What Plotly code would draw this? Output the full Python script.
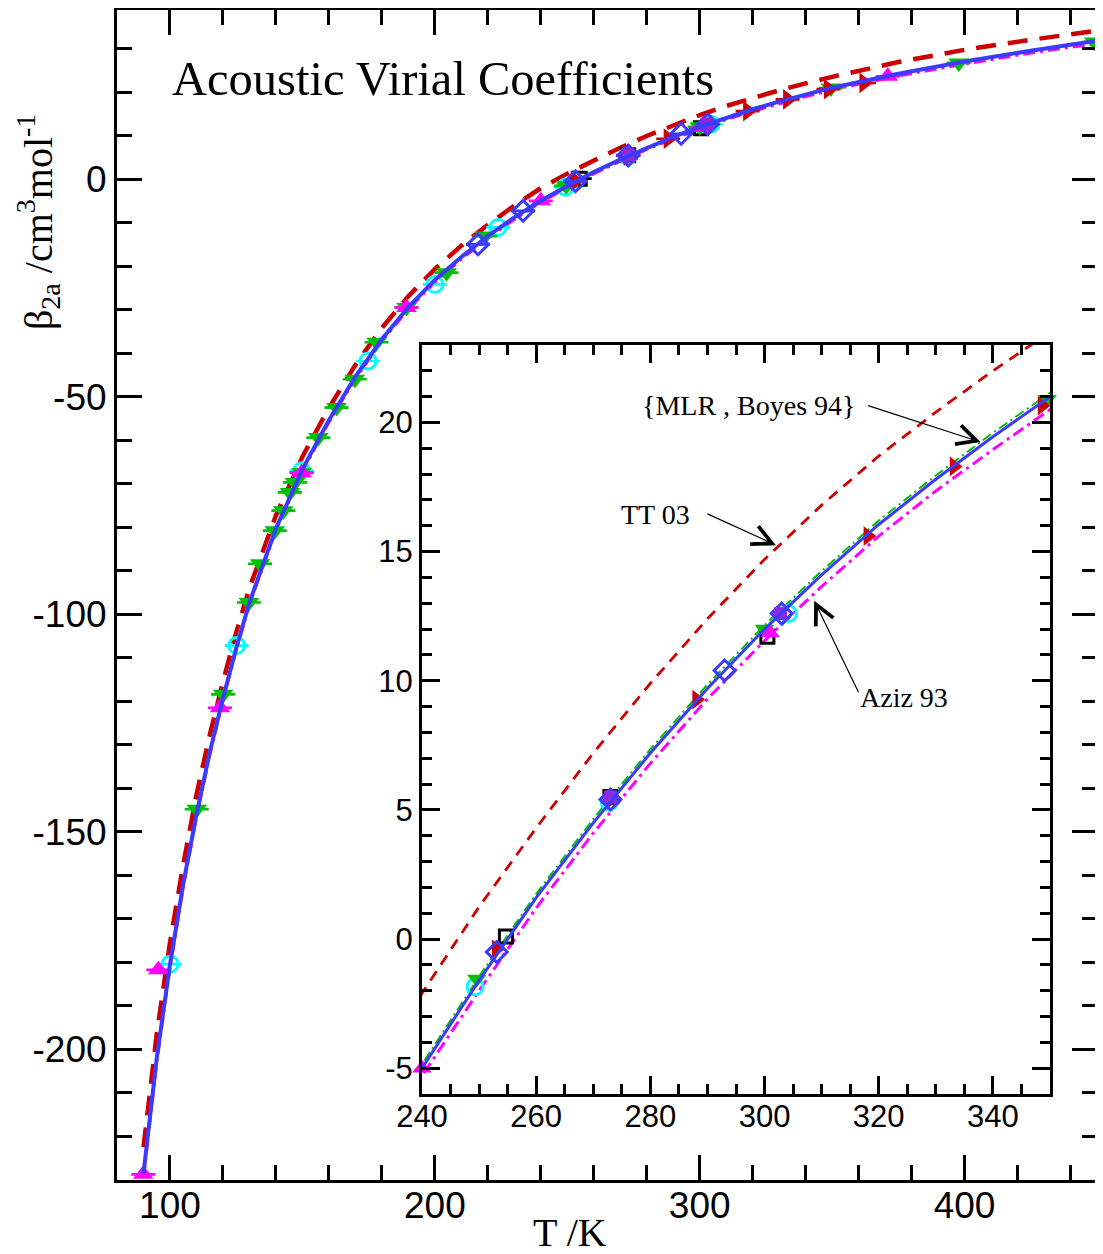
import plotly.graph_objects as go

# ---------------- data ----------------
T_curve = [90, 95, 100, 105, 110, 115, 120, 125, 130, 140, 150, 160, 170, 180, 190, 200,
           210, 220, 230, 240, 250, 260, 270, 280, 290, 300, 310, 320, 330, 340, 350,
           375, 400, 425, 450]
B_mlr = [-228.5, -202.0, -180.5, -162.0, -146.0, -131.8, -119.3, -107.8, -97.3, -80.3,
         -66.7, -55.4, -45.4, -36.8, -29.4, -23.2, -17.9, -13.1, -8.8, -5.0, -1.6, 1.6,
         4.5, 7.2, 9.7, 12.0, 14.1, 16.05, 17.8, 19.45, 21.0, 24.2, 27.0, 29.5, 31.8]
B_tt03 = [-222.5, -196.5, -175.5, -157.5, -141.5, -127.8, -115.5, -104.2, -94.0, -77.3,
          -63.8, -52.6, -42.7, -34.2, -26.9, -20.7, -15.3, -10.5, -6.1, -2.1, 1.25, 4.3,
          7.2, 9.9, 12.4, 14.7, 16.8, 18.7, 20.4, 22.0, 23.5, 26.9, 29.7, 32.0, 34.1]
B_aziz = [-229.5, -203.0, -181.3, -162.8, -146.7, -132.4, -119.9, -108.3, -97.8, -80.8,
          -67.2, -55.9, -45.9, -37.3, -29.9, -23.7, -18.4, -13.6, -9.3, -5.3, -2.0, 1.2,
          4.1, 6.8, 9.3, 11.55, 13.65, 15.6, 17.35, 18.95, 20.5, 23.7, 26.45, 28.95, 31.2]
B_other = [-228.2, -201.6, -180.2, -161.7, -145.7, -131.5, -119.0, -107.6, -97.1, -80.1,
           -66.55, -55.25, -45.25, -36.65, -29.25, -23.05, -17.75, -12.95, -8.65, -4.85,
           -1.45, 1.75, 4.65, 7.35, 9.85, 12.15, 14.25, 16.2, 17.95, 19.6, 21.15, 24.35,
           27.15, 29.65, 31.95]

T_green = [110.1, 120.1, 129.8, 134.0, 139.6, 142.8, 145.3, 147.2, 149.7, 156.0, 162.9,
           169.8, 178.0, 189.3, 204.4, 218.9, 249.6, 300.0, 349.5, 397.8, 449.0]
B_green = [-144.8, -118.4, -97.3, -88.4, -80.8, -76.2, -72.0, -69.7, -67.4, -59.4, -52.5,
           -46.0, -37.5, -29.5, -21.5, -13.1, -1.55, 12.0, 20.9, 26.7, 31.5]

T_cyan = [100.0, 125.2, 149.7, 174.8, 200.0, 223.9, 249.3, 272.8, 304.2]
B_cyan = [-180.4, -107.2, -67.0, -41.8, -24.2, -11.1, -1.85, 5.3, 12.6]

T_magenta = [89.9, 95.6, 118.9, 149.7, 189.3, 240.0, 273.0, 301.0, 371.0]
B_magenta = [-228.7, -181.7, -121.5, -67.5, -29.5, -5.0, 5.4, 11.85, 23.6]

T_red = [253.0, 273.0, 288.1, 318.1, 333.2, 348.6, 362.0]
B_red = [-0.4, 5.4, 9.27, 15.6, 18.3, 20.65, 22.1]

T_diamond = [216.3, 233.3, 253.1, 273.0, 293.0, 303.0]
B_diamond = [-15.0, -7.3, -0.5, 5.4, 10.4, 12.6]

T_square = [254.7, 273.0, 300.5]
B_square = [0.1, 5.5, 11.7]

T_purple = [273.0, 302.8]
B_purple = [5.5, 12.6]

main_xticks = [100, 200, 300, 400]
main_yticks = [-200, -150, -100, -50, 0]
inset_xticks = [240, 260, 280, 300, 320, 340]
inset_yticks = [-5, 0, 5, 10, 15, 20]

# ---------------- styles ----------------
RED = '#cc0000'
BLUE = '#3b3bff'
MAG = '#ff00ff'
GRN = '#00c000'
CYN = '#00ffff'
PUR = '#8a2be2'
SERIF = 'Liberation Serif'
SANS = 'Liberation Sans'

fig = go.Figure()


def add_set(xa, ya, main):
    def eb(c):
        if main:
            return dict(type='constant', value=0.02, width=12, thickness=2.5, color=c)
        return None
    ms = 18 if main else 17
    fig.add_trace(go.Scatter(x=T_curve, y=B_tt03, mode='lines', xaxis=xa, yaxis=ya,
                             line=dict(color=RED, width=4.5 if main else 2.8,
                                       dash='20px,12px' if main else '11px,8px')))
    fig.add_trace(go.Scatter(x=T_curve, y=B_aziz, mode='lines', xaxis=xa, yaxis=ya,
                             line=dict(color=MAG, width=3,
                                       dash='12px,5px,3px,5px')))
    fig.add_trace(go.Scatter(x=T_curve, y=B_other, mode='lines', xaxis=xa, yaxis=ya,
                             line=dict(color=GRN, width=2, dash='10px,4px,2px,4px')))
    fig.add_trace(go.Scatter(x=T_square, y=B_square, mode='markers', xaxis=xa, yaxis=ya,
                             cliponaxis=False, error_y=eb('black'),
                             marker=dict(symbol='square-open', size=13, color='black',
                                         line=dict(width=3, color='black'))))
    fig.add_trace(go.Scatter(x=T_cyan, y=B_cyan, mode='markers', xaxis=xa, yaxis=ya,
                             cliponaxis=False, error_y=eb(CYN),
                             marker=dict(symbol='circle-open', size=16, color=CYN,
                                         line=dict(width=3, color=CYN))))
    fig.add_trace(go.Scatter(x=T_green, y=B_green, mode='markers', xaxis=xa, yaxis=ya,
                             cliponaxis=False, error_y=eb(GRN),
                             marker=dict(symbol='triangle-down', size=ms, color=GRN)))
    fig.add_trace(go.Scatter(x=T_magenta, y=B_magenta, mode='markers', xaxis=xa, yaxis=ya,
                             cliponaxis=False, error_y=eb(MAG),
                             marker=dict(symbol='triangle-up', size=ms, color=MAG)))
    fig.add_trace(go.Scatter(x=T_red, y=B_red, mode='markers', xaxis=xa, yaxis=ya,
                             cliponaxis=False, error_y=eb(RED),
                             marker=dict(symbol='triangle-right', size=ms, color=RED)))
    fig.add_trace(go.Scatter(x=T_diamond, y=B_diamond, mode='markers', xaxis=xa, yaxis=ya,
                             cliponaxis=False, error_y=eb(BLUE),
                             marker=dict(symbol='diamond-open', size=16, color=BLUE,
                                         line=dict(width=3, color=BLUE))))
    fig.add_trace(go.Scatter(x=T_purple, y=B_purple, mode='markers', xaxis=xa, yaxis=ya,
                             cliponaxis=False,
                             marker=dict(symbol='square', size=13, color=PUR)))
    fig.add_trace(go.Scatter(x=T_curve, y=B_mlr, mode='lines', xaxis=xa, yaxis=ya,
                             line=dict(color=BLUE, width=4 if main else 3)))


add_set('x', 'y', True)
add_set('x2', 'y2', False)

# the page body adds an 8px offset; target pixel positions are relative to the window
OFF = 8
W, H = 1103 - OFF, 1254 - OFF


def px(x):
    return (x - OFF) / W


def py(y):
    return 1 - (y - OFF) / H


# main y axis: -230 at 1180 px, 40 at 5 px; top clipped to 10 px (page offset)
Y_LO, Y_HI, PX_LO, PX_HI = -230.0, 40.0, 1180.0, 5.0
TOP_PX = 10.0
y_top_val = Y_HI - (TOP_PX - PX_HI) * (Y_HI - Y_LO) / (PX_LO - PX_HI)


def ax_common(size, major_len):
    return dict(showgrid=False, zeroline=False, showline=True, linewidth=3,
                linecolor='black', mirror='ticks', ticks='inside', ticklen=major_len,
                tickwidth=2.5, tickcolor='black', automargin=False,
                tickfont=dict(family=SANS, size=size, color='black'))


xa = ax_common(37, 25)
xa.update(domain=[px(117), px(1097)], range=[80, 450], anchor='y',
          tickvals=main_xticks, ticktext=[str(v) for v in main_xticks],
          ticklabelstandoff=-9,
          minor=dict(dtick=20, ticklen=15, tickwidth=2.5, tickcolor='black', ticks='inside'))
ya = ax_common(37, 25)
ya.update(domain=[py(PX_LO), py(TOP_PX)], range=[Y_LO, y_top_val], anchor='x',
          tickvals=main_yticks, ticktext=[str(v) for v in main_yticks],
          minor=dict(dtick=10, ticklen=15, tickwidth=2.5, tickcolor='black', ticks='inside'))
xa2 = ax_common(31, 18)
xa2.update(domain=[px(422), px(1050)], range=[240, 350], anchor='y2',
           tickvals=inset_xticks, ticktext=[str(v) for v in inset_xticks],
           ticklabelstandoff=-7,
           minor=dict(dtick=5, ticklen=10, tickwidth=2.5, tickcolor='black', ticks='inside'))
ya2 = ax_common(31, 18)
ya2.update(domain=[py(1094), py(345)], range=[-6, 23], anchor='x2',
           tickvals=inset_yticks, ticktext=[str(v) for v in inset_yticks],
           minor=dict(dtick=1, ticklen=10, tickwidth=2.5, tickcolor='black', ticks='inside'))

arrow = dict(showarrow=True, arrowhead=5, arrowsize=3.2, arrowwidth=1.2,
             arrowcolor='black', text='', xref='x2', yref='y2')

annotations = [
    dict(text='Acoustic Virial Coefficients', xref='paper', yref='paper',
         x=px(170), y=py(78), xanchor='left', yanchor='middle', showarrow=False,
         font=dict(family=SERIF, size=48.5, color='black')),
    dict(text='T /K', xref='paper', yref='paper', x=px(570), y=py(1232),
         xanchor='center', yanchor='middle', showarrow=False,
         font=dict(family=SERIF, size=40, color='black')),
    dict(text='β<sub>2a</sub> /cm<sup>3</sup>mol<sup>-1</sup>', xref='paper', yref='paper',
         x=px(38), y=py(222), xanchor='center', yanchor='middle', showarrow=False,
         textangle=-90, font=dict(family=SERIF, size=40, color='black')),
    dict(text='{MLR , Boyes 94}', xref='x2', yref='y2', x=297.2, y=20.66,
         xanchor='center', yanchor='middle', showarrow=False,
         font=dict(family=SERIF, size=28, color='black')),
    dict(text='TT 03', xref='x2', yref='y2', x=280.9, y=16.45,
         xanchor='center', yanchor='middle', showarrow=False,
         font=dict(family=SERIF, size=28, color='black')),
    dict(text='Aziz 93', xref='x2', yref='y2', x=324.4, y=9.34,
         xanchor='center', yanchor='middle', showarrow=False,
         font=dict(family=SERIF, size=28, color='black')),
    dict(arrow, x=337.85, y=19.24, ax=-114, ay=-37),
    dict(arrow, x=302.0, y=15.25, ax=-70, ay=-32),
    dict(arrow, x=308.7, y=13.1, ax=45, ay=93),
]

fig.update_layout(width=W, height=H, margin=dict(l=0, r=0, t=0, b=0, autoexpand=False),
                  paper_bgcolor='white', plot_bgcolor='white', showlegend=False,
                  xaxis=xa, yaxis=ya, xaxis2=xa2, yaxis2=ya2, annotations=annotations)

fig.write_html('out.html')
